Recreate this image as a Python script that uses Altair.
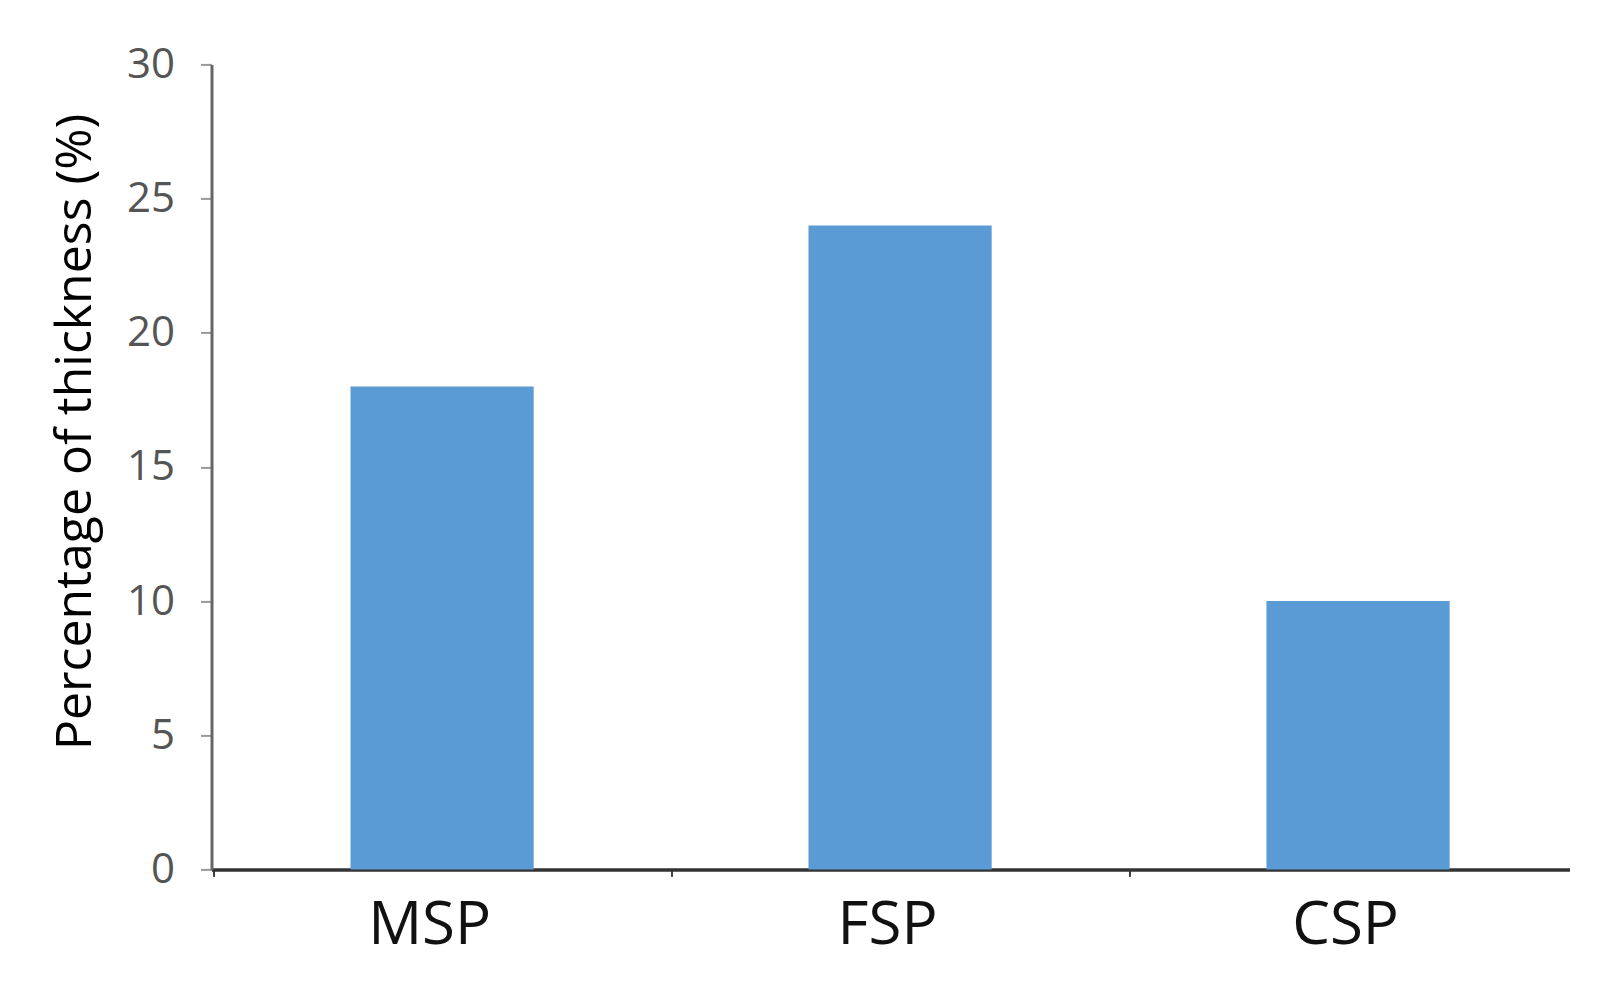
import altair as alt
import pandas as pd

categories = ["MSP", "FSP", "CSP"]
values = [18, 24, 10]

df = pd.DataFrame({"cat": categories, "val": values})

FONT = "Open Sans"

chart = alt.Chart(df).mark_bar(color="#5B9BD5").encode(
    x=alt.X("cat:N", sort=categories, title=None,
            scale=alt.Scale(paddingInner=0.6, paddingOuter=0.2826, align=0.537),
            axis=alt.Axis(tickOffset=-229, labelOffset=216, labelAngle=0,
                          labelFont=FONT, labelFontSize=60, labelColor="#111111",
                          labelPadding=20, tickSize=7, tickColor="#404040", tickWidth=2,
                          domainColor="#333333", domainWidth=3.5)),
    y=alt.Y("val:Q", title="Percentage of thickness (%)",
            scale=alt.Scale(domain=[0, 30], nice=False),
            axis=alt.Axis(values=[0, 5, 10, 15, 20, 25, 30], grid=False,
                          labelFont=FONT, labelFontSize=42, labelColor="#555555",
                          labelPadding=26, tickSize=11, tickColor="#999999", tickWidth=2,
                          domainColor="#666666", domainWidth=3,
                          titleFont=FONT, titleFontSize=50, titleFontWeight="normal",
                          titleColor="#000000", titleAngle=-90,
                          titleX=-136, titleY=367, titleAlign="center",
                          titleBaseline="middle")),
).properties(
    width=1358, height=805,
    autosize=alt.AutoSizeParams(type="none"),
    padding={"left": 203.5, "top": 56.4, "right": 20, "bottom": 100},
    background="white",
).configure_view(stroke=None)

chart.save("out.html", embed_options={"renderer": "svg", "actions": False})
